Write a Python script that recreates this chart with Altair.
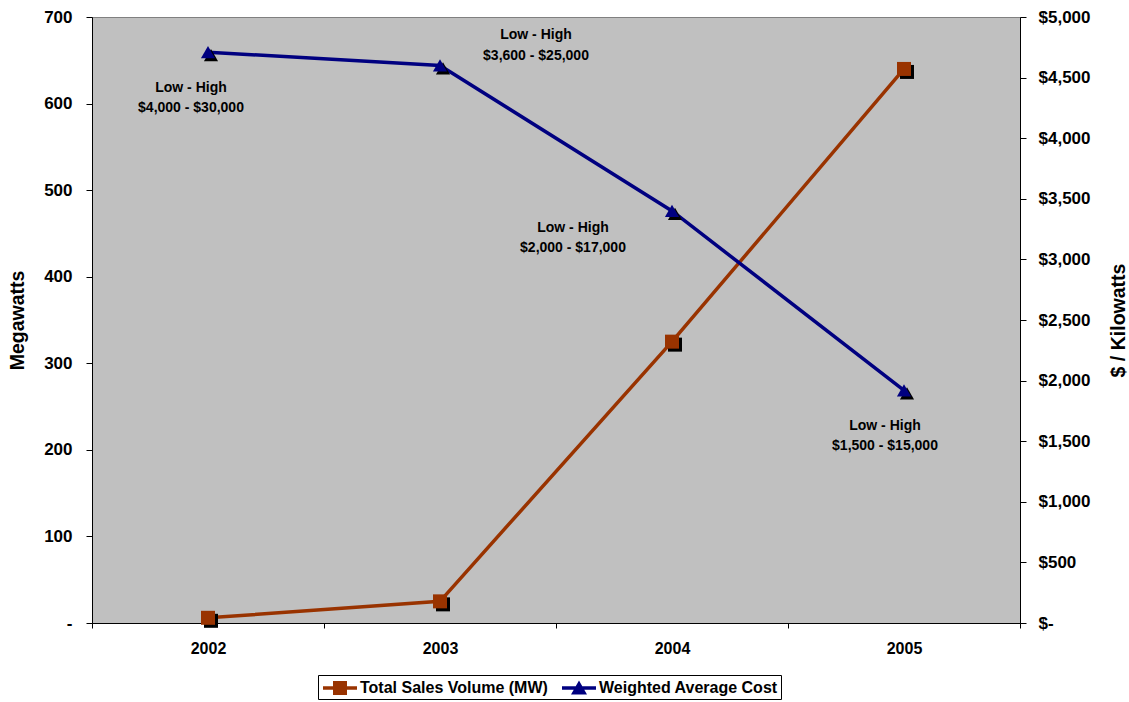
import altair as alt
import pandas as pd

# ---- data ----
years = ["2002", "2003", "2004", "2005"]
sales_mw = [6, 25, 325, 640]
avg_cost = [4710, 4600, 3400, 1920]
series_names = ["Total Sales Volume (MW)", "Weighted Average Cost"]

ann_years = ["2002", "2002", "2003", "2003", "2004", "2004", "2005", "2005"]
ann_cost = [4414, 4249, 4851, 4678, 3259, 3094, 1625, 1460]
ann_text = ["Low - High", "$4,000 - $30,000",
            "Low - High", "$3,600 - $25,000",
            "Low - High", "$2,000 - $17,000",
            "Low - High", "$1,500 - $15,000"]

# ---- styling ----
FONT = "Liberation Sans"
SALES_COLOR = "#993300"
COST_COLOR = "#000080"
ANN_DX = {"2002": -17, "2003": 96, "2004": -99, "2005": -19}
# legend glyphs: a thick line segment with the series marker on top
LEGEND_SHAPES = [
    "M-1.7,-0.175H1.7V0.175H-1.7ZM-0.7,-0.7H0.7V0.7H-0.7Z",
    "M-1.7,-0.175H1.7V0.175H-1.7ZM0,-0.75L0.8,0.65H-0.8Z",
]

sales_df = pd.DataFrame({"year": years, "value": sales_mw, "series": series_names[0]})
cost_df = pd.DataFrame({"year": years, "value": avg_cost, "series": series_names[1]})
ann_df = pd.DataFrame({"year": ann_years, "value": ann_cost, "text": ann_text})

x_enc = alt.X("year:N", title=None,
              scale=alt.Scale(type="band", paddingInner=0, paddingOuter=0),
              axis=alt.Axis(labelAngle=0, tickBand="extent", tickSize=5,
                            labelPadding=12, domainColor="black", tickColor="black",
                            labelFontSize=16, labelFontWeight="bold", labelColor="black",
                            labelFont=FONT))

legend = alt.Legend(
    title=None, orient="none", legendX=226, legendY=658,
    direction="horizontal", strokeColor="black", fillColor="white",
    padding=3, symbolSize=400, symbolStrokeWidth=0, symbolOffset=9,
    labelFont=FONT, labelFontSize=16, labelFontWeight="bold", labelLimit=400,
    labelColor="black", columnPadding=12, labelOffset=10)

color_enc = alt.Color("series:N",
                      scale=alt.Scale(domain=series_names, range=[SALES_COLOR, COST_COLOR]),
                      legend=legend)
shape_enc = alt.Shape("series:N",
                      scale=alt.Scale(domain=series_names, range=LEGEND_SHAPES),
                      legend=legend)

y_left = alt.Y("value:Q", title="Megawatts",
               scale=alt.Scale(domain=[0, 700], nice=False),
               axis=alt.Axis(values=[0, 100, 200, 300, 400, 500, 600, 700],
                             labelExpr="datum.value == 0 ? '-' : format(datum.value, ',')",
                             grid=False, tickSize=6, labelPadding=14,
                             domainColor="black", tickColor="black",
                             labelFont=FONT, labelFontSize=17, labelFontWeight="bold",
                             labelColor="black",
                             titleFont=FONT, titleFontSize=19.5, titleFontWeight="bold",
                             titleColor="black", titleAngle=270, titleX=-75, titleY=303,
                             titleAlign="center", titleBaseline="middle"))

y_right = alt.Y("value:Q", title="$ / Kilowatts",
                scale=alt.Scale(domain=[0, 5000], nice=False),
                axis=alt.Axis(orient="right",
                              values=[0, 500, 1000, 1500, 2000, 2500, 3000, 3500, 4000, 4500, 5000],
                              labelExpr="datum.value == 0 ? '$-' : '$' + format(datum.value, ',')",
                              grid=False, tickSize=6, labelPadding=12,
                              domainColor="black", tickColor="black",
                              labelFont=FONT, labelFontSize=17, labelFontWeight="bold",
                              labelColor="black",
                              titleFont=FONT, titleFontSize=19.5, titleFontWeight="bold",
                              titleColor="black", titleAngle=270, titleX=98, titleY=303,
                              titleAlign="center", titleBaseline="middle"))

sales_base = alt.Chart(sales_df)
sales_line = sales_base.mark_line(strokeWidth=3.5, color=SALES_COLOR).encode(x=x_enc, y=y_left)
sales_shadow = sales_base.mark_point(shape="square", filled=True, color="black",
                                     size=196, opacity=1, xOffset=3, yOffset=3).encode(x=x_enc, y=y_left)
sales_pts = sales_base.mark_point(shape="square", filled=True, color=SALES_COLOR,
                                  size=196, opacity=1).encode(x=x_enc, y=y_left)
# legend-only layer (no rows drawn)
legend_layer = (sales_base.transform_filter("false")
                .mark_point(filled=True, opacity=1, size=400, strokeWidth=0)
                .encode(x=x_enc, y=y_left, color=color_enc, shape=shape_enc))
left = alt.layer(sales_line, sales_shadow, sales_pts, legend_layer)

cost_base = alt.Chart(cost_df)
cost_line = cost_base.mark_line(strokeWidth=3.5, color=COST_COLOR).encode(x=x_enc, y=y_right)
cost_shadow = cost_base.mark_point(shape="triangle-up", filled=True, color="black",
                                   size=200, opacity=1, xOffset=3, yOffset=3).encode(x=x_enc, y=y_right)
cost_pts = cost_base.mark_point(shape="triangle-up", filled=True, color=COST_COLOR,
                                size=200, opacity=1).encode(x=x_enc, y=y_right)

texts = []
for yr in years:
    texts.append(
        alt.Chart(ann_df).transform_filter(alt.datum.year == yr)
        .mark_text(font=FONT, fontSize=14, fontWeight="bold", color="black",
                   dx=ANN_DX[yr], align="center", baseline="middle")
        .encode(x=x_enc, y=y_right, text="text:N")
    )
right = alt.layer(cost_line, cost_shadow, cost_pts, *texts)

chart = (
    alt.layer(left, right)
    .resolve_scale(y="independent")
    .properties(width=928, height=606,
                autosize=alt.AutoSizeParams(type="none"),
                padding={"left": 92, "top": 17, "right": 109, "bottom": 79},
                background="white")
    .configure_view(fill="#C0C0C0", stroke="#808080", strokeWidth=1)
)

chart.save("out.html", embed_options={"renderer": "svg", "actions": False})
